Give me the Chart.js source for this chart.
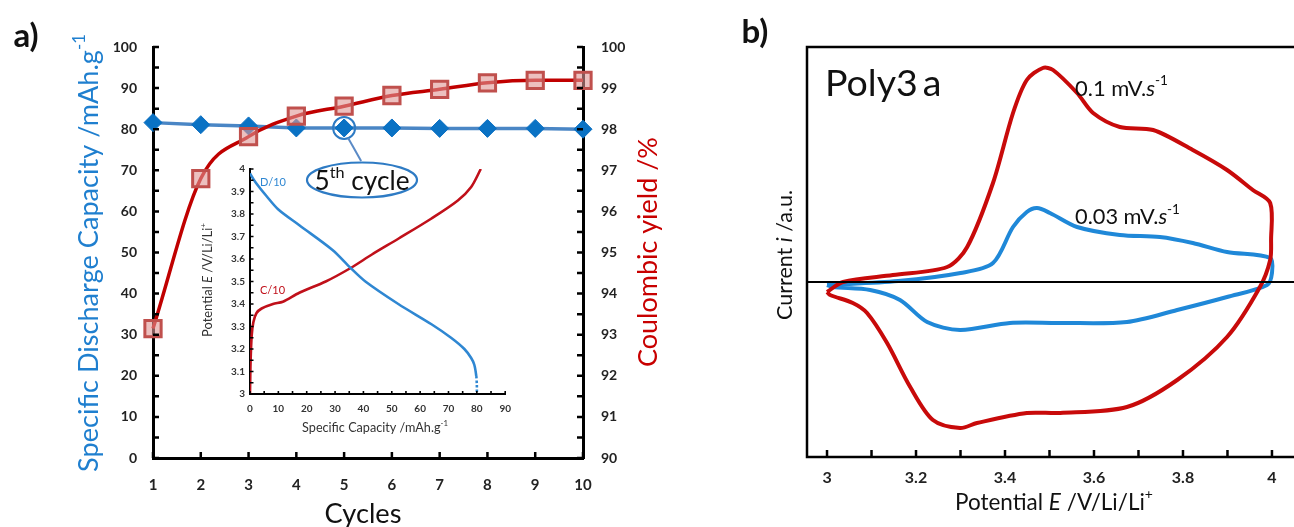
<!DOCTYPE html>
<html>
<head>
<meta charset="utf-8">
<script src="https://cdn.jsdelivr.net/npm/chart.js@4.4.1/dist/chart.umd.min.js"></script>
<style>
  html, body { margin: 0; padding: 0; background: #fff; overflow: hidden; }
  #wrap { position: relative; width: 1294px; height: 527px; overflow: hidden; }
  canvas { position: absolute; }
</style>
</head>
<body>
<div id="wrap">
  <canvas id="cycA" width="700" height="527" style="left:0;top:0"></canvas>
  <canvas id="inset" width="340" height="290" style="left:180px;top:150px"></canvas>
  <canvas id="cvB" width="570" height="527" style="left:740px;top:0"></canvas>
</div>
<script>
"use strict";

// panel a : cycling
const cycles = [1, 2, 3, 4, 5, 6, 7, 8, 9, 10];
const dischargeCapacity = [81.6, 81.1, 80.8, 80.3, 80.3, 80.3, 80.2, 80.2, 80.2, 80.0];
const coulombicYield = [93.15, 96.8, 97.82, 98.32, 98.56, 98.82, 98.97, 99.13, 99.19, 99.19];
const capTicks = [0, 10, 20, 30, 40, 50, 60, 70, 80, 90, 100];
const yieldTicks = [90, 91, 92, 93, 94, 95, 96, 97, 98, 99, 100];

// inset : 5th cycle galvanostatic curves
const dischCap = [0, 2, 5.8, 10, 17.4, 29.1, 35.5, 40.7, 52.3, 64, 70.9, 75.6, 78, 79.1, 79.8, 80, 80];
const dischV = [3.98, 3.94, 3.88, 3.82, 3.75, 3.64, 3.56, 3.50, 3.40, 3.31, 3.25, 3.20, 3.16, 3.13, 3.08, 3.04, 3.0];
const chargeCap = [0, 0.2, 0.6, 1.2, 2.3, 4.1, 8.1, 11.6, 17.4, 26.7, 35.5, 43, 52.3, 64, 73.3, 78, 81.4];
const chargeV = [3.0, 3.14, 3.26, 3.32, 3.36, 3.38, 3.40, 3.41, 3.45, 3.50, 3.56, 3.62, 3.69, 3.78, 3.86, 3.92, 4.0];
const insetCapTicks = [0, 10, 20, 30, 40, 50, 60, 70, 80, 90];
const insetVTicks = [3, 3.1, 3.2, 3.3, 3.4, 3.5, 3.6, 3.7, 3.8, 3.9, 4];

// panel b : cyclic voltammetry (a.u.)
const cvFastE = [3.0, 3.036, 3.148, 3.27, 3.315, 3.373, 3.418, 3.449, 3.485, 3.508, 3.562, 3.598, 3.658, 3.733, 3.822, 3.899, 3.957, 3.996, 3.998, 3.996,
  3.973, 3.899, 3.787, 3.674, 3.524, 3.449, 3.337, 3.299, 3.238, 3.187, 3.135, 3.09, 3.058, 3.007, 3.0];
const cvFastI = [-1.0, 0.0, 0.7, 1.5, 3.5, 9.9, 16.9, 20.2, 21.4, 21.2, 18.9, 16.9, 15.5, 15.2, 13.2, 11.2, 9.2, 7.9, 4.2, 2.2,
  -0.5, -5.5, -9.8, -12.5, -13.1, -13.1, -14.1, -14.6, -13.8, -10.5, -6.1, -3.1, -2.1, -1.3, -1.0];
const cvSlowE = [3.0, 3.16, 3.3, 3.373, 3.418, 3.449, 3.472, 3.501, 3.562, 3.658, 3.748, 3.822, 3.899, 3.996, 4.0,
  3.989, 3.899, 3.787, 3.674, 3.524, 3.411, 3.299, 3.225, 3.164, 3.097, 3.013, 3.0];
const cvSlowI = [-0.3, 0.1, 0.9, 1.9, 5.5, 7.0, 7.4, 6.9, 5.5, 4.7, 4.5, 3.9, 3.0, 2.4, 0.9,
  -0.3, -1.5, -2.8, -4.0, -4.1, -4.1, -4.8, -4.0, -1.8, -0.8, -0.5, -0.3];
const cvTicks = [3, 3.2, 3.4, 3.6, 3.8, 4];

const FAM = 'Lato';
const BLUE_T = '#1f7fcf';
const RED_T = '#c80000';

function pairs(xs, ys) { return xs.map((x, i) => ({ x: x, y: ys[i] })); }
function setTicks(vals) { return s => { s.ticks = vals.map(v => ({ value: v })); }; }

// text with italic / superscript parts
function richText(ctx, parts, x, y, o) {
  let size = o.size;
  const fontOf = (p, s) => (p.it ? 'italic ' : '') + (o.weight || 'normal') + ' ' + (p.sup ? s * 0.62 : s) + 'px ' + FAM;
  const measure = s => parts.reduce((w, p) => { ctx.font = fontOf(p, s); return w + ctx.measureText(p.t).width + (p.dx || 0); }, 0);
  ctx.save();
  let w = measure(size);
  if (o.fit) { size = size * o.fit / w; w = measure(size); }
  ctx.translate(x, y);
  if (o.rot) ctx.rotate(o.rot);
  let cx = o.align === 'left' ? 0 : (o.align === 'right' ? -w : -w / 2);
  ctx.fillStyle = o.color || '#000';
  ctx.textBaseline = 'middle';
  ctx.textAlign = 'left';
  parts.forEach(p => {
    ctx.font = fontOf(p, size);
    cx += p.dx || 0;
    ctx.fillText(p.t, cx, p.sup ? -size * 0.36 : 0);
    cx += ctx.measureText(p.t).width;
  });
  ctx.restore();
}

function tickLines(ctx, pts, width) {
  ctx.save();
  ctx.strokeStyle = '#000';
  ctx.lineWidth = width;
  ctx.beginPath();
  pts.forEach(p => { ctx.moveTo(p[0], p[1]); ctx.lineTo(p[2], p[3]); });
  ctx.stroke();
  ctx.restore();
}

const baseOpts = {
  responsive: false,
  animation: false,
  devicePixelRatio: 1,
  events: [],
  plugins: { legend: { display: false }, tooltip: { enabled: false } }
};

// ---------- panel a ----------
const panelA = {
  id: 'panelA',
  afterDraw(chart) {
    const ctx = chart.ctx;
    const a = chart.chartArea;
    const sx = chart.scales.x, sy = chart.scales.y, sy2 = chart.scales.y2;
    const pts = [];
    for (let v = 0; v <= 100; v += 5) { const p = sy.getPixelForValue(v); pts.push([a.left, p, a.left + 6, p]); }
    for (let v = 90; v <= 100.01; v += 0.5) { const p = sy2.getPixelForValue(v); pts.push([a.right, p, a.right - 6, p]); }
    cycles.forEach(c => { const p = sx.getPixelForValue(c); pts.push([p, a.bottom, p, a.bottom - 6]); });
    tickLines(ctx, pts, 2.5);

    // 5th cycle marker
    const cx = sx.getPixelForValue(cycles[4]);
    const cy = sy.getPixelForValue(dischargeCapacity[4]);
    ctx.save();
    ctx.strokeStyle = '#2e7bc4';
    ctx.lineWidth = 2;
    ctx.beginPath(); ctx.arc(cx, cy, 11, 0, Math.PI * 2); ctx.stroke();
    ctx.strokeStyle = '#5a8ac6';
    ctx.beginPath(); ctx.moveTo(cx + 4, cy + 10); ctx.lineTo(cx + 17, cy + 33); ctx.stroke();
    ctx.strokeStyle = '#2e7bc4';
    ctx.lineWidth = 2.2;
    ctx.beginPath(); ctx.ellipse(362, 180, 55, 17.5, 0, 0, Math.PI * 2); ctx.stroke();
    ctx.restore();
    richText(ctx, [{ t: '5' }, { t: 'th', sup: true }, { t: ' cycle' }], 362, 182, { size: 22, fit: 95, color: '#111' });

    richText(ctx, [{ t: 'Specific Discharge Capacity /mAh.g' }, { t: '-1', sup: true }], 89, 253,
      { size: 22, fit: 438, color: BLUE_T, rot: -Math.PI / 2 });
    richText(ctx, [{ t: 'Coulombic yield /%' }], 648, 252, { size: 22, fit: 230, color: RED_T, rot: -Math.PI / 2 });
    richText(ctx, [{ t: 'Cycles' }], 363, 514, { size: 24, fit: 77, color: '#111' });
    richText(ctx, [{ t: 'a)' }], 26, 36, { size: 33, color: '#111', weight: 'bold' });
  }
};

new Chart(document.getElementById('cycA'), {
  type: 'line',
  data: {
    datasets: [
      {
        label: 'Coulombic yield', data: pairs(cycles, coulombicYield), yAxisID: 'y2', order: 0, clip: false,
        borderColor: '#c00000', borderWidth: 3.5, cubicInterpolationMode: 'monotone',
        pointStyle: 'rect', pointRadius: 11.5, pointBorderWidth: 3,
        pointBorderColor: '#c0504d', pointBackgroundColor: 'rgba(224,150,148,0.6)'
      },
      {
        label: 'Discharge capacity', data: pairs(cycles, dischargeCapacity), yAxisID: 'y', order: 1, clip: false,
        borderColor: '#4a86c5', borderWidth: 3.5, tension: 0,
        pointStyle: 'rectRot', pointRadius: 9, pointBorderWidth: 1,
        pointBorderColor: '#0a6fc2', pointBackgroundColor: '#0a72c4'
      }
    ]
  },
  options: Object.assign({}, baseOpts, {
    layout: { padding: { top: 47, left: 0, right: 0, bottom: 0 } },
    scales: {
      x: {
        type: 'linear', min: 1, max: 10,
        afterFit: s => { s.height = 69; }, afterBuildTicks: setTicks(cycles),
        grid: { display: false, drawTicks: false }, border: { color: '#000', width: 3 },
        ticks: { padding: 18, color: '#222', font: { family: FAM, size: 15, weight: 'bold' } }
      },
      y: {
        position: 'left', min: 0, max: 100,
        afterFit: s => { s.width = 153; }, afterBuildTicks: setTicks(capTicks),
        grid: { display: false, drawTicks: false }, border: { color: '#000', width: 3 },
        ticks: { padding: 16, color: '#222', font: { family: FAM, size: 14, weight: 'bold' } }
      },
      y2: {
        position: 'right', min: 90, max: 100,
        afterFit: s => { s.width = 117; }, afterBuildTicks: setTicks(yieldTicks),
        grid: { display: false, drawTicks: false }, border: { color: '#000', width: 3 },
        ticks: { padding: 18, color: '#222', font: { family: FAM, size: 14, weight: 'bold' } }
      }
    }
  }),
  plugins: [panelA]
});

// ---------- inset ----------
const insetPlug = {
  id: 'insetPlug',
  afterDraw(chart) {
    const ctx = chart.ctx;
    const a = chart.chartArea;
    const sx = chart.scales.x, sy = chart.scales.y;
    const pts = [];
    for (let v = 3; v <= 4.001; v += 0.05) { const p = sy.getPixelForValue(v); pts.push([a.left, p, a.left + 3.5, p]); }
    for (let v = 0; v <= 90; v += 5) { const p = sx.getPixelForValue(v); pts.push([p, a.bottom, p, a.bottom - 3]); }
    tickLines(ctx, pts, 1.6);
    // texts are placed in page coordinates, canvas sits at (180,150)
    richText(ctx, [{ t: 'Potential ' }, { t: 'E', it: true }, { t: ' /V/Li/Li' }, { t: '+', sup: true }], 208 - 180, 280 - 150,
      { size: 10, fit: 114, color: '#333', rot: -Math.PI / 2 });
    richText(ctx, [{ t: 'Specific Capacity /mAh.g' }, { t: '-1', sup: true }], 375 - 180, 428 - 150,
      { size: 10, fit: 146, color: '#333' });
    richText(ctx, [{ t: 'D/10' }], 260 - 180, 182 - 150, { size: 11, color: '#2f87d2', align: 'left' });
    richText(ctx, [{ t: 'C/10' }], 260 - 180, 290 - 150, { size: 11, color: '#c0101a', align: 'left' });
  }
};

new Chart(document.getElementById('inset'), {
  type: 'scatter',
  data: {
    datasets: [
      {
        label: 'D/10', data: pairs(dischCap, dischV), showLine: true, pointRadius: 0, tension: 0.3,
        borderColor: '#2f87d2', borderWidth: 2.6,
        segment: { borderDash: c => (c.p0.parsed.y < 3.1 ? [2.5, 2] : undefined) }
      },
      {
        label: 'C/10', data: pairs(chargeCap, chargeV), showLine: true, pointRadius: 0, tension: 0.3,
        borderColor: '#c0101a', borderWidth: 2.6
      }
    ]
  },
  options: Object.assign({}, baseOpts, {
    layout: { padding: { top: 19, left: 0, right: 13, bottom: 0 } },
    scales: {
      x: {
        type: 'linear', min: 0, max: 90,
        afterFit: s => { s.height = 46; }, afterBuildTicks: setTicks(insetCapTicks),
        grid: { display: false, drawTicks: false }, border: { color: '#000', width: 2 },
        ticks: { padding: 9, color: '#333', font: { family: FAM, size: 10, weight: 'bold' } }
      },
      y: {
        type: 'linear', min: 3, max: 4,
        afterFit: s => { s.width = 70; }, afterBuildTicks: setTicks(insetVTicks),
        grid: { display: false, drawTicks: false }, border: { color: '#000', width: 2 },
        ticks: { padding: 5, color: '#333', font: { family: FAM, size: 10, weight: 'bold' },
          callback: v => String(Number(v.toFixed(2))) }
      }
    }
  }),
  plugins: [insetPlug]
});

// ---------- panel b ----------
const panelB = {
  id: 'panelB',
  afterDatasetsDraw(chart) {
    const ctx = chart.ctx;
    const a = chart.chartArea;
    const sx = chart.scales.x, sy = chart.scales.y;
    const z = sy.getPixelForValue(0);
    ctx.save();
    ctx.strokeStyle = '#000';
    ctx.lineWidth = 2.2;
    ctx.beginPath(); ctx.moveTo(a.left, z); ctx.lineTo(a.right, z); ctx.stroke();
    ctx.lineWidth = 2.5;
    ctx.strokeRect(a.left, a.top, a.right - a.left, a.bottom - a.top);
    ctx.restore();
    const pts = [];
    for (let v = 3; v <= 4.001; v += 0.1) { const p = sx.getPixelForValue(v); pts.push([p, a.bottom, p, a.bottom - 7]); }
    tickLines(ctx, pts, 2.5);

    const ox = 740;
    richText(ctx, [{ t: 'Poly3' }, { t: 'a', dx: 5 }], 825 - ox, 84, { size: 34, fit: 117, color: '#111', align: 'left' });
    richText(ctx, [{ t: '0.1 mV.' }, { t: 's', it: true }, { t: '-1', sup: true }], 1075 - ox, 89, { size: 15, fit: 93, color: '#111', align: 'left' });
    richText(ctx, [{ t: '0.03 mV.' }, { t: 's', it: true }, { t: '-1', sup: true }], 1075 - ox, 217, { size: 15, fit: 105, color: '#111', align: 'left' });
    richText(ctx, [{ t: 'Current ' }, { t: 'i', it: true }, { t: ' /a.u.' }], 785 - ox, 255, { size: 15, fit: 130, color: '#111', rot: -Math.PI / 2 });
    richText(ctx, [{ t: 'Potential ' }, { t: 'E', it: true }, { t: ' /V/Li/Li' }, { t: '+', sup: true }], 1054 - ox, 503, { size: 16, fit: 198, color: '#111' });
    richText(ctx, [{ t: 'b)' }], 755 - ox, 32, { size: 33, color: '#111', weight: 'bold' });
  }
};

new Chart(document.getElementById('cvB'), {
  type: 'scatter',
  data: {
    datasets: [
      {
        label: '0.1 mV/s', data: pairs(cvFastE, cvFastI), showLine: true, pointRadius: 0, tension: 0.3,
        borderColor: '#c80a0a', borderWidth: 4
      },
      {
        label: '0.03 mV/s', data: pairs(cvSlowE, cvSlowI), showLine: true, pointRadius: 0, tension: 0.3,
        borderColor: '#1f88d8', borderWidth: 4
      }
    ]
  },
  options: Object.assign({}, baseOpts, {
    layout: { padding: { top: 47, left: 0, right: 10, bottom: 0 } },
    scales: {
      x: {
        type: 'linear', min: 2.955, max: 4.063,
        afterFit: s => { s.height = 70; }, afterBuildTicks: setTicks(cvTicks),
        grid: { display: false, drawTicks: false }, border: { display: false },
        ticks: { padding: 11, color: '#222', font: { family: FAM, size: 16, weight: 'bold' },
          callback: v => String(Number(v.toFixed(1))) }
      },
      y: {
        type: 'linear', min: -17.5, max: 23.5,
        afterFit: s => { s.width = 67; },
        grid: { display: false, drawTicks: false }, border: { display: false },
        ticks: { display: false }
      }
    }
  }),
  plugins: [panelB]
});
</script>
</body>
</html>
